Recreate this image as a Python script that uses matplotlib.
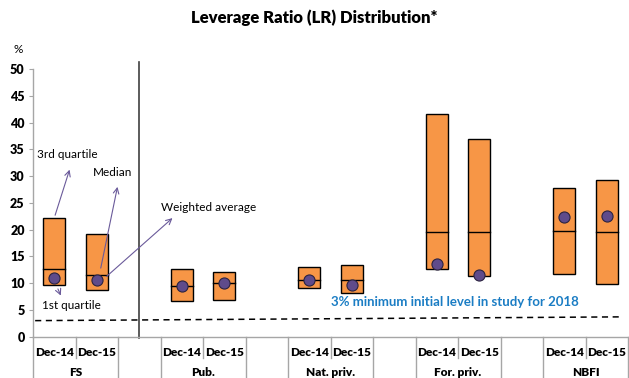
import matplotlib
matplotlib.use('Agg')
import matplotlib.pyplot as plt

plt.rcParams['font.family'] = ['Lato', 'DejaVu Sans']

groups = ['FS', 'Pub.', 'Nat. priv.', 'For. priv.', 'NBFI']
periods = ['Dec-14', 'Dec-15']

# quartiles, medians and weighted averages, per group and period
q1 = [[9.7, 8.7], [6.6, 6.9], [9.1, 8.2], [12.7, 11.3], [11.8, 9.8]]
q3 = [[22.2, 19.2], [12.6, 12.0], [13.1, 13.4], [41.6, 37.0], [27.7, 29.3]]
med = [[12.6, 11.6], [9.4, 10.1], [10.6, 10.6], [19.6, 19.5], [19.7, 19.5]]
wavg = [[11.0, 10.6], [9.4, 10.1], [10.5, 9.7], [13.6, 11.5], [22.4, 22.5]]

min_level = [3.0, 3.7]
min_text = '3% minimum initial level in study for 2018'

orange = '#f79646'
purple = '#5f4b8b'
grey = '#a6a6a6'

fig = plt.figure(figsize=(6.29, 3.78), dpi=100)
ax = fig.add_axes([0.0525, 0.1093, 0.946, 0.708])

bw = 0.52
for g in range(len(groups)):
    for p in range(2):
        xc = g * 3 + p + 0.5
        lo, hi = q1[g][p], q3[g][p]
        ax.add_patch(plt.Rectangle((xc - bw / 2, lo), bw, hi - lo,
                                   facecolor=orange, edgecolor='black', lw=1, zorder=2))
        ax.plot([xc - bw / 2, xc + bw / 2], [med[g][p]] * 2, color='black', lw=1, zorder=3)
        ax.plot(xc, wavg[g][p], 'o', ms=8, color=purple, mec='#2b2340', mew=0.8, zorder=4)

# minimum level line
ax.plot([0.05, 13.8], min_level, color='black', lw=1.1, ls=(0, (4, 3)), zorder=1)
ax.text(7.0, 6.4, min_text, color='#1b7dc4', fontsize=9.5, fontweight='bold',
        ha='left', va='center')

ax.set_xlim(0, 14)
ax.set_ylim(0, 50)
ax.set_yticks(range(0, 51, 5))
ax.tick_params(axis='y', length=3, color=grey, labelsize=9, pad=3)
for lb in ax.get_yticklabels():
    lb.set_fontweight('heavy')
ax.set_xticks([])
for s in ['top', 'right']:
    ax.spines[s].set_visible(False)
ax.spines['left'].set_color(grey)
ax.spines['bottom'].set_color(grey)
ax.spines['left'].set_linewidth(1)
ax.spines['bottom'].set_linewidth(1)

# separator between FS and the rest
ax.plot([2.5, 2.5], [-0.3, 51.3], color='#404040', lw=1.2, clip_on=False)

# two level category axis
for g in range(len(groups)):
    x0 = g * 3
    ax.plot([x0 + 1, x0 + 1], [0, -4], color=grey, lw=1, clip_on=False)
    for xe in (x0, x0 + 2):
        ax.plot([xe, xe], [0, -8], color=grey, lw=1, clip_on=False)
    for p in range(2):
        ax.text(x0 + p + 0.5, -2.9, periods[p], ha='center', va='center',
                fontsize=8.5, fontweight='heavy')
    ax.text(x0 + 1, -6.6, groups[g], ha='center', va='center',
            fontsize=8.5, fontweight='heavy')

# legend arrows on the FS boxes
arr = dict(arrowstyle='->', color='#6a5a9a', lw=0.8)
ax.annotate('', xy=(0.88, 31.7), xytext=(0.5, 22.2), arrowprops=arr)
ax.text(0.1, 34.0, '3rd quartile', fontsize=8.5, va='center')
ax.annotate('', xy=(2.0, 28.5), xytext=(1.58, 12.3), arrowprops=arr)
ax.text(1.4, 30.6, 'Median', fontsize=8.5, va='center')
ax.annotate('', xy=(3.33, 22.5), xytext=(1.68, 10.9), arrowprops=arr)
ax.text(3.0, 24.2, 'Weighted average', fontsize=8.5, va='center')
ax.annotate('', xy=(0.68, 7.2), xytext=(0.56, 9.4), arrowprops=arr)
ax.text(0.2, 5.8, '1st quartile', fontsize=8.5, va='center')

fig.text(0.029, 0.87, '%', fontsize=8.5, ha='center', va='center')
fig.text(0.5, 0.952, 'Leverage Ratio (LR) Distribution*', fontsize=12,
         fontweight='heavy', ha='center', va='center')

fig.savefig('out.png', dpi=100)
